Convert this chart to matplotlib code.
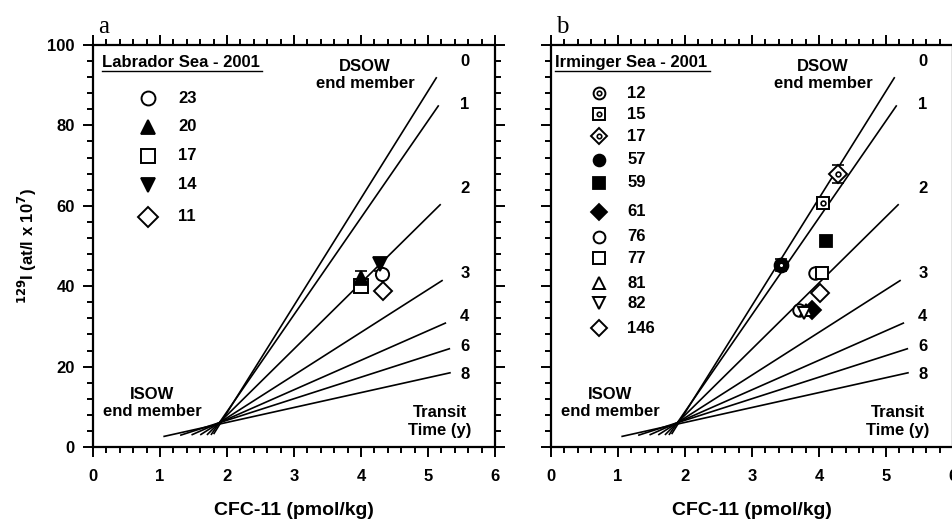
import matplotlib
matplotlib.use("Agg")
import matplotlib.pyplot as plt
from matplotlib.ticker import MultipleLocator

plt.rcParams['font.family'] = ['Liberation Sans', 'DejaVu Sans']
plt.rcParams['font.weight'] = 'bold'

# Transit-time mixing lines: (label, start x, start y, end x, end y)
transit_labels = ["0", "1", "2", "3", "4", "6", "8"]
line_x0 = [1.80, 1.76, 1.70, 1.60, 1.47, 1.30, 1.05]
line_y0 = [3.2, 3.0, 3.0, 3.0, 3.0, 2.9, 2.6]
line_x1 = [5.13, 5.16, 5.19, 5.22, 5.27, 5.33, 5.34]
line_y1 = [92.0, 85.0, 60.4, 41.5, 30.9, 24.5, 18.5]
label_y = [95.8, 85.3, 64.2, 43.2, 32.4, 25.1, 18.1]

# Panel a: Labrador Sea 2001
a_stations = ["23", "20", "17", "14", "11"]
a_markers = ["o", "^", "s", "v", "D"]
a_filled = [False, True, False, True, False]
a_x = [[4.31], [4.00], [4.00], [4.29], [4.33]]
a_y = [[43.0], [42.0], [40.0], [45.5], [38.7]]
a_err = [[0], [1.8], [0], [1.6], [0]]
a_leg_y = [86.7, 79.7, 72.4, 65.2, 57.3]
a_zorder = [4, 5, 4, 5, 4]

# Panel b: Irminger Sea 2001
b_stations = ["12", "15", "17", "57", "59", "61", "76", "77", "81", "82", "146"]
b_markers = ["o", "s", "D", "o", "s", "D", "o", "s", "^", "v", "D"]
b_style = ["dot", "dot", "dot", "fill", "fill", "fill", "open", "open", "open", "open", "open"]
b_x = [[3.44], [4.06], [4.29], [3.44], [4.11], [3.89], [3.94, 3.70], [4.04], [3.80], [3.78], [4.01]]
b_y = [[45.3], [60.8], [67.9], [45.3], [51.3], [34.2], [43.4, 34.1], [43.4], [34.0], [33.4], [38.2]]
b_err = [[0], [0], [2.2], [1.5], [0], [0], [0, 0], [0], [0], [0], [0]]
b_leg_y = [88.0, 82.8, 77.3, 71.4, 65.7, 58.5, 52.3, 47.0, 40.7, 35.7, 29.5]

fig = plt.figure(figsize=(9.52, 5.22), dpi=100)
W, H = 952, 522
axa = fig.add_axes([93 / W, (H - 447) / H, 402 / W, 402 / H])
axb = fig.add_axes([551 / W, (H - 447) / H, 402 / W, 402 / H])

def style_axes(ax, ylabels):
    ax.set_xlim(0, 6)
    ax.set_ylim(0, 100)
    ax.xaxis.set_major_locator(MultipleLocator(1))
    ax.xaxis.set_minor_locator(MultipleLocator(0.2))
    ax.yaxis.set_major_locator(MultipleLocator(20))
    ax.yaxis.set_minor_locator(MultipleLocator(4))
    for s in ax.spines.values():
        s.set_linewidth(1.6)
    ax.tick_params(which='both', direction='out', top=True, right=True,
                   width=1.4, labelsize=12, pad=6)
    ax.tick_params(which='major', length=7)
    ax.tick_params(which='minor', length=4)
    ax.tick_params(axis='x', pad=9)
    if not ylabels:
        ax.tick_params(axis='y', labelleft=False)
    ax.set_xlabel("CFC-11 (pmol/kg)", fontsize=14, fontweight='bold', labelpad=13)
    for lab in ax.get_xticklabels() + ax.get_yticklabels():
        lab.set_fontweight('bold')

def draw_lines(ax):
    for lab, x0, y0, x1, y1, ly in zip(transit_labels, line_x0, line_y0, line_x1, line_y1, label_y):
        ax.plot([x0, x1], [y0, y1], color='black', lw=1.2, solid_capstyle='butt', zorder=2)
        ax.text(5.55, ly, lab, fontsize=12, fontweight='bold', ha='center', va='center')
    ax.text(5.18, 6.3, "Transit\nTime (y)", fontsize=12, fontweight='bold',
            ha='center', va='center', linespacing=1.25)
    ax.text(4.06, 92.6, "DSOW\nend member", fontsize=12, fontweight='bold',
            ha='center', va='center', linespacing=1.15)
    ax.text(0.88, 11.0, "ISOW\nend member", fontsize=12, fontweight='bold',
            ha='center', va='center', linespacing=1.15)

def draw_marker(ax, x, y, m, style, ms=9, z=4):
    if style == "fill":
        ax.plot(x, y, m, ms=ms, mfc='black', mec='black', mew=1.3, ls='none', zorder=z)
    else:
        ax.plot(x, y, m, ms=ms, mfc='white', mec='black', mew=1.4, ls='none', zorder=z)
        if style == "dot":
            ax.plot(x, y, 'o', ms=ms * 0.38, mfc='white', mec='black', mew=1.2,
                    ls='none', zorder=z + 0.1)

style_axes(axa, True)
style_axes(axb, False)
draw_lines(axa)
draw_lines(axb)

axa.set_ylabel("$\\mathbf{^{129}}$I (at/l x 10$\\mathbf{^{7}}$)", fontsize=12,
               fontweight='bold', labelpad=6)

# Panel a data
for st, m, f, xs, ys, es, ly, z in zip(a_stations, a_markers, a_filled, a_x, a_y, a_err,
                                        a_leg_y, a_zorder):
    for x, y, e in zip(xs, ys, es):
        if e > 0:
            axa.errorbar([x], [y], yerr=[e], fmt='none', ecolor='black', elinewidth=1.2,
                         capsize=4, capthick=1.2, zorder=3)
    draw_marker(axa, xs, ys, m, "fill" if f else "open", ms=9.5, z=z)
    draw_marker(axa, [0.82], [ly], m, "fill" if f else "open", ms=10)
    axa.text(1.27, ly, st, fontsize=12, fontweight='bold', ha='left', va='center')

# Panel b data
for st, m, sty, xs, ys, es, ly in zip(b_stations, b_markers, b_style, b_x, b_y, b_err, b_leg_y):
    for x, y, e in zip(xs, ys, es):
        if e > 0:
            axb.errorbar([x], [y], yerr=[e], fmt='none', ecolor='black', elinewidth=1.2,
                         capsize=4, capthick=1.2, zorder=3)
    draw_marker(axb, xs, ys, m, sty, ms=10 if st == "57" else 9)
    draw_marker(axb, [0.72], [ly], m, sty, ms=8.5)
    axb.text(1.14, ly, st, fontsize=12, fontweight='bold', ha='left', va='center')

# Titles inside panels
axa.text(0.13, 95.6, "Labrador Sea - 2001", fontsize=12, fontweight='bold',
         ha='left', va='center', zorder=5)
axa.plot([0.13, 2.52], [93.5, 93.5], color='black', lw=1.0)
axb.text(0.06, 95.6, "Irminger Sea - 2001", fontsize=12, fontweight='bold',
         ha='left', va='center', zorder=5)
axb.plot([0.06, 2.38], [93.5, 93.5], color='black', lw=1.0)

# Panel letters
fig.text(98 / W, 1 - 33 / H, "a", fontsize=18, family=['Liberation Serif', 'DejaVu Serif'],
         fontweight='normal', ha='left', va='baseline')
fig.text(556 / W, 1 - 33 / H, "b", fontsize=18, family=['Liberation Serif', 'DejaVu Serif'],
         fontweight='normal', ha='left', va='baseline')

fig.savefig("out.png", dpi=100)
